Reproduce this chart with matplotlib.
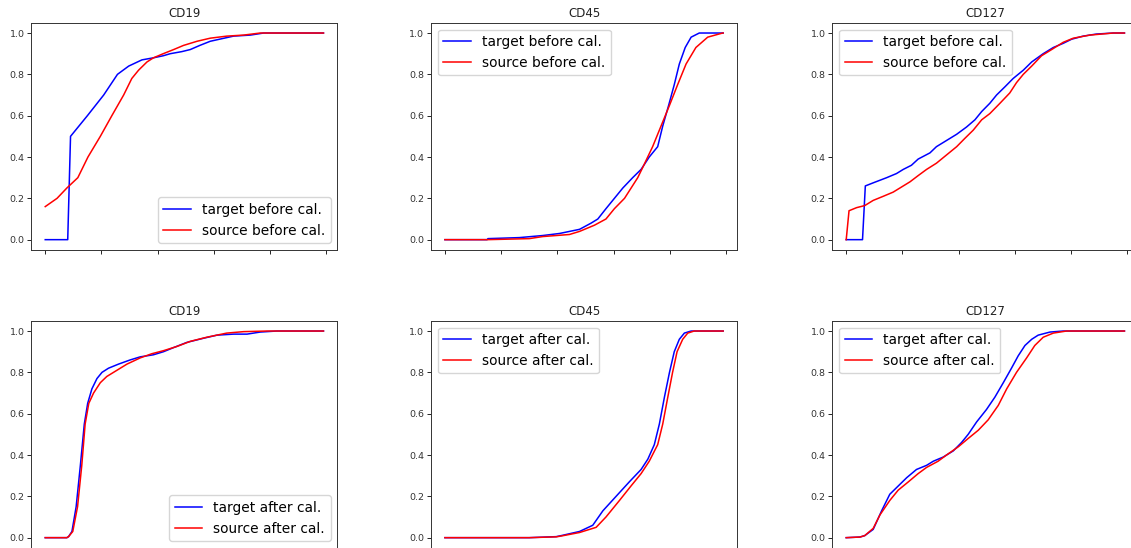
import matplotlib
matplotlib.use('Agg')
import matplotlib.pyplot as plt

# values (x = sample index 0..99, y = cumulative fraction)
# CD19 before calibration
cd19_tb_x = [0, 8, 9, 15, 20.8, 25.7, 29.7, 34.4, 38.5, 42, 44.5, 48.6, 51.6, 55, 58.7, 62, 67, 73, 77.7, 99]
cd19_tb_y = [0, 0, 0.50, 0.60, 0.70, 0.80, 0.84, 0.87, 0.88, 0.89, 0.90, 0.91, 0.92, 0.94, 0.96, 0.97, 0.985, 0.99, 1.0, 1.0]
cd19_sb_x = [0, 4.2, 7.7, 11.6, 15.2, 19.6, 23.7, 27.9, 30.8, 33.2, 36.2, 38.5, 42, 45.7, 49.2, 54, 58.7, 64.6, 70.6, 76.5, 99]
cd19_sb_y = [0.16, 0.20, 0.25, 0.30, 0.40, 0.50, 0.60, 0.70, 0.78, 0.82, 0.86, 0.88, 0.90, 0.92, 0.94, 0.96, 0.975, 0.985, 0.99, 1.0, 1.0]

# CD45 before calibration
cd45_tb_x = [0, 15, 15.3, 26.5, 34.8, 40.8, 47.9, 52, 54.4, 57.3, 60.3, 63.3, 66.8, 69.8, 72.7, 75.7, 77.5, 79.6, 81.6, 83.4, 85.5, 87.6, 90.5, 99]
cd45_tb_y = [0, 0, 0.005, 0.01, 0.02, 0.03, 0.05, 0.08, 0.10, 0.15, 0.20, 0.25, 0.30, 0.34, 0.40, 0.45, 0.55, 0.65, 0.75, 0.85, 0.93, 0.98, 1.0, 1.0]
cd45_sb_x = [0, 15, 30, 34.8, 44.3, 47.9, 53.2, 57.3, 60.3, 63.9, 68.6, 70.4, 73.9, 76.9, 79.9, 82.8, 85.8, 89.3, 93.5, 98.8, 99]
cd45_sb_y = [0, 0, 0.005, 0.015, 0.025, 0.04, 0.07, 0.10, 0.15, 0.20, 0.30, 0.35, 0.45, 0.55, 0.65, 0.75, 0.85, 0.93, 0.98, 1.0, 1.0]

# CD127 before calibration
cd127_tb_x = [0, 5.8, 6.8, 9.6, 14.4, 17.9, 20.3, 23.2, 25.6, 29.8, 32.1, 35.7, 39.3, 42.8, 45.8, 48.2, 51.1, 53.5, 56.5, 59.4, 63, 66, 70.1, 73.7, 77.2, 80.2, 84.3, 89, 95, 99]
cd127_tb_y = [0, 0, 0.26, 0.275, 0.30, 0.32, 0.34, 0.36, 0.39, 0.42, 0.45, 0.48, 0.51, 0.545, 0.58, 0.62, 0.66, 0.70, 0.74, 0.78, 0.82, 0.86, 0.90, 0.93, 0.95, 0.97, 0.985, 0.995, 1.0, 1.0]
cd127_sb_x = [0, 1, 3.7, 6.6, 9.6, 13.2, 16.7, 19.1, 22.7, 25.6, 28.6, 32.1, 35.7, 39.3, 42.2, 45.2, 48.2, 51.1, 54.7, 58.2, 60.6, 63, 66, 69.5, 73.1, 77.2, 80.8, 86.7, 95, 99]
cd127_sb_y = [0, 0.14, 0.155, 0.165, 0.19, 0.21, 0.23, 0.25, 0.28, 0.31, 0.34, 0.37, 0.41, 0.45, 0.49, 0.53, 0.58, 0.61, 0.66, 0.71, 0.76, 0.80, 0.84, 0.89, 0.92, 0.955, 0.975, 0.99, 1.0, 1.0]

# CD19 after calibration
cd19_ta_x = [0, 7.7, 8.3, 9.5, 11, 12.5, 13.9, 15.1, 16.6, 18.4, 20.2, 22.5, 26.1, 30.2, 33.8, 38.5, 42.1, 45.7, 50.4, 56.3, 61.1, 67, 71.8, 76.5, 82.4, 99]
cd19_ta_y = [0, 0, 0.005, 0.03, 0.15, 0.35, 0.55, 0.65, 0.72, 0.77, 0.80, 0.82, 0.84, 0.86, 0.875, 0.885, 0.90, 0.92, 0.945, 0.965, 0.98, 0.985, 0.985, 0.995, 1.0, 1.0]
cd19_sa_x = [0, 7.7, 8.3, 9.8, 11.5, 13, 14.2, 15.5, 17.2, 19.6, 21.9, 25.5, 29.1, 33.8, 37.9, 42.1, 46.8, 51.6, 57.5, 64.6, 70.6, 78.9, 99]
cd19_sa_y = [0, 0, 0.005, 0.03, 0.15, 0.35, 0.55, 0.65, 0.70, 0.75, 0.78, 0.81, 0.84, 0.87, 0.89, 0.905, 0.925, 0.95, 0.97, 0.99, 0.997, 1.0, 1.0]

# CD45 after calibration
cd45_ta_x = [0, 30, 39.6, 41.4, 47.9, 52.6, 56.2, 60.9, 65.6, 69.8, 72.2, 74.5, 76.3, 78.1, 79.9, 81.6, 83.4, 85.2, 87.6, 99]
cd45_ta_y = [0, 0, 0.005, 0.01, 0.03, 0.06, 0.13, 0.20, 0.27, 0.33, 0.38, 0.45, 0.55, 0.68, 0.80, 0.90, 0.96, 0.99, 1.0, 1.0]
cd45_sa_x = [0, 30, 39.6, 41.4, 47.9, 53.8, 57.3, 62.1, 66.2, 69.8, 72.7, 75.7, 77.5, 79.3, 81, 82.6, 84.6, 86.4, 88.7, 99]
cd45_sa_y = [0, 0, 0.004, 0.008, 0.025, 0.05, 0.10, 0.18, 0.25, 0.31, 0.37, 0.45, 0.55, 0.68, 0.80, 0.90, 0.96, 0.99, 1.0, 1.0]

# CD127 after calibration
cd127_ta_x = [0, 4.9, 6.6, 9.6, 12.6, 15.5, 18.5, 21.5, 25, 28.6, 31, 34.5, 38.1, 41, 43.4, 46.4, 49.9, 52.9, 55.9, 58.8, 61.2, 63.6, 66, 68.3, 72.5, 77.2, 99]
cd127_ta_y = [0, 0.003, 0.01, 0.04, 0.13, 0.21, 0.25, 0.29, 0.33, 0.35, 0.37, 0.39, 0.42, 0.46, 0.50, 0.56, 0.62, 0.68, 0.75, 0.82, 0.88, 0.93, 0.96, 0.98, 0.995, 1.0, 1.0]
cd127_sa_x = [0, 4.9, 6.6, 9.6, 12, 15.5, 18.5, 22.1, 25.6, 28.6, 32.7, 35.7, 39.9, 43.4, 47, 50.5, 54.1, 57.1, 60.6, 64.2, 67.1, 70.1, 73.7, 78.4, 99]
cd127_sa_y = [0, 0.003, 0.01, 0.045, 0.11, 0.18, 0.23, 0.27, 0.31, 0.34, 0.37, 0.40, 0.44, 0.48, 0.52, 0.57, 0.64, 0.72, 0.80, 0.87, 0.93, 0.97, 0.99, 1.0, 1.0]

titles = ['CD19', 'CD45', 'CD127']
x_ticks = [0, 20, 40, 60, 80, 100]

before = [(cd19_tb_x, cd19_tb_y, cd19_sb_x, cd19_sb_y),
          (cd45_tb_x, cd45_tb_y, cd45_sb_x, cd45_sb_y),
          (cd127_tb_x, cd127_tb_y, cd127_sb_x, cd127_sb_y)]
after = [(cd19_ta_x, cd19_ta_y, cd19_sa_x, cd19_sa_y),
         (cd45_ta_x, cd45_ta_y, cd45_sa_x, cd45_sa_y),
         (cd127_ta_x, cd127_ta_y, cd127_sa_x, cd127_sa_y)]
legend_loc = ['lower right', 'upper left', 'upper left']

fig = plt.figure(figsize=(11.31, 5.48), dpi=100)
lefts = [0.0277, 0.3811, 0.7359]
w, h = 0.2706, 0.4148

for row, (data, tag, bottom) in enumerate([(before, 'before', 0.5438), (after, 'after', 0.0)]):
    for col in range(3):
        ax = fig.add_axes([lefts[col], bottom, w, h])
        tx, ty, sx, sy = data[col]
        ax.plot(tx, ty, 'b', linewidth=1.1, label='target %s cal.' % tag)
        ax.plot(sx, sy, 'r', linewidth=1.1, label='source %s cal.' % tag)
        ax.set_xlim(-4.95, 103.95)
        ax.set_ylim(-0.05, 1.05)
        ax.set_xticks(x_ticks)
        ax.set_xticklabels([])
        ax.set_yticks([0, 0.2, 0.4, 0.6, 0.8, 1.0])
        ax.tick_params(labelsize=6.8, length=2.8, width=0.6, pad=2, labelcolor='#333333')
        for s in ax.spines.values():
            s.set_linewidth(0.7)
            s.set_color('#333333')
        ax.set_title(titles[col], fontsize=8.5, pad=4, color='#222222')
        ax.legend(loc=legend_loc[col], fontsize=9.9, handlelength=2.0)

fig.savefig('out.png', dpi=100)
